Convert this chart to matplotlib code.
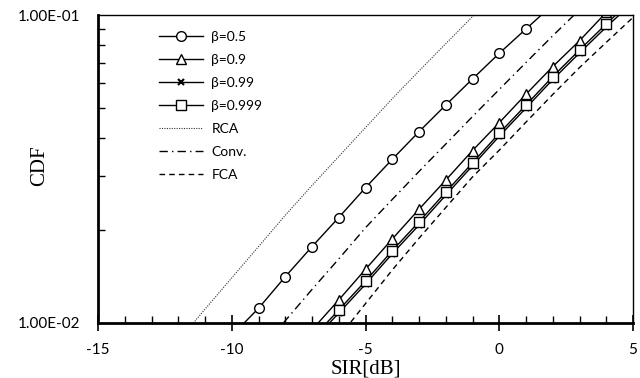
import numpy as np
import matplotlib
matplotlib.use('Agg')
import matplotlib.pyplot as plt
from matplotlib.ticker import FixedLocator, FuncFormatter, NullFormatter

plt.rcParams['axes.unicode_minus'] = False

# SIR [dB] sample points and CDF values
sir_b05 = [-10, -9, -8, -7, -6, -5, -4, -3, -2, -1, 0, 1, 2]
cdf_b05 = [0.0091, 0.01116, 0.01413, 0.0177, 0.0220, 0.0275, 0.0340, 0.0418,
           0.0510, 0.0620, 0.0751, 0.0901, 0.108]

sir_b09 = [-7, -6, -5, -4, -3, -2, -1, 0, 1, 2, 3, 4]
cdf_b09 = [0.0095, 0.01188, 0.01494, 0.01874, 0.0234, 0.0291, 0.0363, 0.0447,
           0.0553, 0.0680, 0.0825, 0.102]

sir_b099 = [-7, -6, -5, -4, -3, -2, -1, 0, 1, 2, 3, 4, 5]
cdf_b099 = [0.0087, 0.01077, 0.01337, 0.01678, 0.0208, 0.0260, 0.0324, 0.0404,
            0.0499, 0.0617, 0.0753, 0.0914, 0.110]

sir_b0999 = [-7, -6, -5, -4, -3, -2, -1, 0, 1, 2, 3, 4, 5]
cdf_b0999 = [0.0089, 0.01102, 0.01368, 0.01717, 0.0213, 0.0266, 0.0331, 0.0413,
             0.0510, 0.0631, 0.0770, 0.0935, 0.113]

sir_rca = [-11.5, -11, -10, -9, -8, -7, -6, -5, -4, -3, -2, -1, 0]
cdf_rca = [0.00985, 0.01109, 0.01401, 0.01770, 0.02237, 0.02796, 0.03472, 0.0431,
           0.0535, 0.0658, 0.0807, 0.0988, 0.120]

sir_conv = [-8.5, -8, -7, -6, -5, -4, -3, -2, -1, 0, 1, 2, 3]
cdf_conv = [0.00902, 0.01017, 0.01285, 0.01614, 0.02039, 0.02518, 0.03104, 0.0381,
            0.0468, 0.0573, 0.0701, 0.0856, 0.104]

sir_fca = [-6, -5, -4, -3, -2, -1, 0, 1, 2, 3, 4, 5]
cdf_fca = [0.00899, 0.01156, 0.01486, 0.01884, 0.0237, 0.0298, 0.0364, 0.0449,
           0.0552, 0.0675, 0.0815, 0.0982]

fig = plt.figure(figsize=(6.4, 3.78), dpi=100)
ax = fig.add_axes([98 / 640, 55 / 378, 535 / 640, 308 / 378])

mk = dict(color='black', lw=1.0, markerfacecolor='white',
          markeredgecolor='black', markeredgewidth=1.0)
ax.plot(sir_b05, cdf_b05, marker='o', markersize=7, label='β=0.5', **mk)
ax.plot(sir_b09, cdf_b09, marker='^', markersize=7.5, label='β=0.9', **mk)
ax.plot(sir_b099, cdf_b099, marker='x', label='β=0.99',
        color='black', lw=1.0, markersize=4.5, markeredgewidth=1.5)
ax.plot(sir_b0999, cdf_b0999, marker='s', markersize=6.5, label='β=0.999', **mk)
ax.plot(sir_rca, cdf_rca, color='#333333', lw=0.8, ls=(0, (1, 1.2)), label='RCA')
ax.plot(sir_conv, cdf_conv, color='black', lw=1.0, ls=(0, (6, 3, 1, 3)), label='Conv.')
ax.plot(sir_fca, cdf_fca, color='black', lw=1.0, ls=(0, (4, 3)), label='FCA')

ax.set_yscale('log')
ax.set_xlim(-15, 5)
ax.set_ylim(0.01, 0.1)

ax.yaxis.set_major_locator(FixedLocator([0.01, 0.1]))
ax.yaxis.set_major_formatter(FuncFormatter(lambda v, p: '%.2E' % v))
ax.yaxis.set_minor_locator(FixedLocator(np.arange(2, 10) * 0.01))
ax.yaxis.set_minor_formatter(NullFormatter())
ax.xaxis.set_major_locator(FixedLocator([-15, -10, -5, 0, 5]))
ax.xaxis.set_minor_locator(FixedLocator(np.arange(-15, 6)))

ax.tick_params(axis='x', which='major', direction='inout', length=11, width=1.2,
               labelsize=11, pad=9)
ax.tick_params(axis='x', which='minor', direction='in', length=5, width=1.0)
ax.tick_params(axis='y', which='major', direction='out', length=0, labelsize=11, pad=13)
ax.tick_params(axis='y', which='minor', direction='in', length=5, width=1.0)
for lab in ax.get_xticklabels() + ax.get_yticklabels():
    lab.set_family('Lato')

for s in ['left', 'bottom']:
    ax.spines[s].set_linewidth(2.0)
for s in ['top', 'right']:
    ax.spines[s].set_linewidth(1.0)

ax.set_xlabel('SIR[dB]', family='Liberation Serif', fontsize=15)
ax.xaxis.set_label_coords(0.5, -0.15)
ax.xaxis.label.set_va('center')
ax.set_ylabel('CDF', family='Liberation Serif', fontsize=15)
ax.yaxis.set_label_coords(-0.11, 0.51)
ax.yaxis.label.set_va('center')

leg = ax.legend(loc='upper left', bbox_to_anchor=(0.09, 0.99), frameon=False,
                handlelength=3.2, labelspacing=0.8, handletextpad=0.6,
                prop={'family': 'Lato', 'size': 10})

fig.savefig('out.png', dpi=100)
